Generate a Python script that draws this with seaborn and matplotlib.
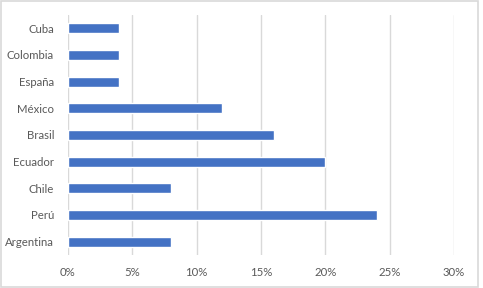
import matplotlib
matplotlib.use("Agg")
import matplotlib.pyplot as plt
import seaborn as sns
import pandas as pd
from matplotlib.ticker import FuncFormatter
from matplotlib.patches import Rectangle

countries = ["Cuba", "Colombia", "España", "México", "Brasil", "Ecuador", "Chile", "Perú", "Argentina"]
values = [4, 4, 4, 12, 16, 20, 8, 24, 8]
xticks = [0, 5, 10, 15, 20, 25, 30]

df = pd.DataFrame({"country": countries, "value": values})

sns.set_style("white")
plt.rcParams["font.family"] = ["Lato", "DejaVu Sans"]

fig = plt.figure(figsize=(4.83, 2.88), dpi=100)
ax = fig.add_axes([68/483, 1-255/288, (454-68)/483, 240/288])

sns.barplot(data=df, x="value", y="country", order=countries, color="#4472C4",
            saturation=1, width=0.37, ax=ax, zorder=3)

ax.set_xlim(0, 30)
ax.set_ylim(8.5, -0.5)
ax.set_xticks(xticks)
ax.xaxis.set_major_formatter(FuncFormatter(lambda v, p: f"{int(v)}%"))
ax.grid(axis="x", color="#D9D9D9", linewidth=1, zorder=0)
ax.grid(axis="y", visible=False)
for s in ax.spines.values():
    s.set_visible(False)
ax.tick_params(axis="both", length=0, labelsize=8.2, colors="#595959")
ax.tick_params(axis="x", pad=9)
ax.tick_params(axis="y", pad=10)
ax.set_xlabel("")
ax.set_ylabel("")

fig.patches.append(Rectangle((0.002, 0.004), 0.987, 0.992, transform=fig.transFigure,
                             fill=False, edgecolor="#D9D9D9", linewidth=1.2))

fig.savefig("out.png", dpi=100)
